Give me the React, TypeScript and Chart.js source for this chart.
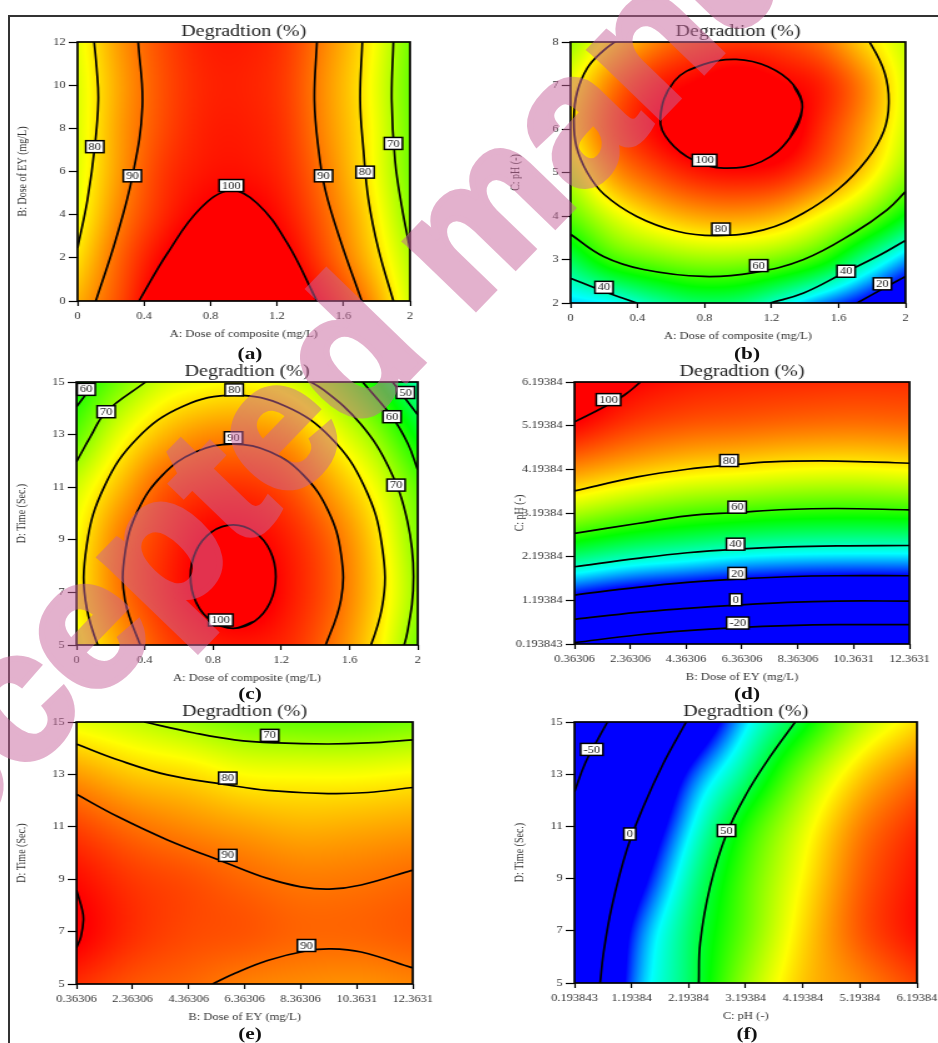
import React, { useEffect, useRef } from "react";
import Chart from "chart.js/auto";

type Pt = [number, number];
type Contour = Pt[];
type Lab = [number, number, string];

const chartTitle = "Degradtion (%)";

// colour key: response value -> rainbow stop
const colorLevels = [20, 35, 55, 77, 100];
const colorStops = [[0, 0, 255], [0, 255, 255], [0, 255, 0], [255, 255, 0], [255, 0, 0]];

// tick labels
const ticksDose = ["0", "0.4", "0.8", "1.2", "1.6", "2"];
const ticksEYShort = ["0", "2", "4", "6", "8", "10", "12"];
const ticksPHShort = ["2", "3", "4", "5", "6", "7", "8"];
const ticksTime = ["5", "7", "9", "11", "13", "15"];
const ticksEY = ["0.36306", "2.36306", "4.36306", "6.36306", "8.36306", "10.3631", "12.3631"];
const ticksPH = ["0.193843", "1.19384", "2.19384", "3.19384", "4.19384", "5.19384", "6.19384"];

// ---------- panel (a)
const heatAx = [0, 0.25, 0.5, 0.75, 1, 1.25, 1.5, 1.75, 2];
const heatAy = [0, 2, 4, 6, 8, 10, 12];
const heatA = [
  [84, 93, 103, 107, 108, 104, 98, 88, 73],
  [79.5, 91, 99.5, 104.5, 105, 101, 93, 83, 70.5],
  [76, 88, 96, 100.5, 101.5, 98, 90.5, 80.5, 67],
  [74.5, 86, 94.5, 98, 98.5, 96, 88.5, 78.5, 65],
  [74, 85.5, 93, 97, 97.5, 95, 87, 78, 64.5],
  [74, 85, 92.5, 96.5, 97, 94.5, 86.5, 77.5, 64],
  [75, 86, 93, 97, 97.5, 95, 87.5, 78.5, 65],
];
const contoursA: Contour[] = [
  [[0, 2.45], [0.06, 4.7], [0.104, 7.15], [0.125, 9.3], [0.115, 10.8], [0.1, 12]],
  [[0.11, 0], [0.23, 2.84], [0.33, 5.77], [0.39, 9], [0.365, 12]],
  [[0.37, 0], [0.54, 2.2], [0.74, 4.3], [0.92, 5.12], [1.08, 4.53], [1.26, 2.7], [1.44, 0]],
  [[1.44, 12], [1.425, 9.3], [1.45, 7], [1.49, 5.15], [1.58, 2.84], [1.71, 0]],
  [[1.713, 12], [1.7, 9.3], [1.72, 7], [1.75, 4.7], [1.81, 2.4], [1.9, 0]],
  [[1.9, 12], [1.89, 9.3], [1.91, 6.5], [1.95, 4.4], [2, 2.4]],
];
const labelsA: Lab[] = [[0.104, 7.15, "80"], [0.33, 5.8, "90"], [0.925, 5.35, "100"], [1.48, 5.8, "90"], [1.73, 5.97, "80"], [1.9, 7.3, "70"]];

// ---------- panel (b)
const heatBx = [0, 0.25, 0.5, 0.75, 1, 1.25, 1.5, 1.75, 2];
const heatBy = [2, 3, 4, 5, 6, 7, 8];
const heatB = [
  [32, 35, 42, 47, 46, 38, 28, 18.5, 7],
  [48.5, 60, 65, 68, 68, 65, 58, 44, 30],
  [63, 74, 81, 85, 86, 83.5, 76.5, 67, 54],
  [72, 86, 93, 97.5, 99, 97.5, 91, 81, 68],
  [79, 92, 99.5, 104, 106, 104, 96, 86, 73],
  [76, 89, 97, 100.5, 103, 100.5, 97, 88, 74],
  [68, 79.5, 88, 93, 95, 94, 90, 81, 72],
];
const contoursB: Contour[] = [
  [[1.31, 5.8], [1.384, 6.5], [1.33, 7.02], [1.18, 7.43], [0.99, 7.6], [0.79, 7.48], [0.62, 7.1], [0.536, 6.25], [0.59, 5.72], [0.74, 5.27], [0.915, 5.1], [1.14, 5.25], [1.31, 5.8], [1.384, 6.5], [1.33, 7.02]],
  [[0.3, 8.1], [0.19, 7.78], [0.1, 7.4], [0.04, 6.85], [0.02, 6.25], [0.035, 5.6], [0.1, 5.0], [0.2, 4.5], [0.396, 3.99], [0.635, 3.65], [0.874, 3.55], [1.153, 3.68], [1.392, 4.07], [1.6, 4.62], [1.77, 5.3], [1.87, 5.95], [1.9, 6.6], [1.875, 7.3], [1.785, 8], [1.72, 8.3]],
  [[0, 3.58], [0.197, 3.07], [0.436, 2.77], [0.795, 2.61], [1.094, 2.7], [1.392, 3.0], [1.69, 3.61], [1.89, 4.14], [2, 4.56]],
  [[0, 2.57], [0.197, 2.27], [0.396, 2]],
  [[1.193, 2], [1.392, 2.23], [1.631, 2.69], [1.85, 3.11], [2, 3.44]],
  [[1.711, 2], [1.87, 2.34], [2, 2.61]],
];
const labelsB: Lab[] = [[0.8, 5.28, "100"], [0.898, 3.7, "80"], [1.124, 2.86, "60"], [0.2, 2.36, "40"], [1.645, 2.73, "40"], [1.862, 2.44, "20"]];

// ---------- panel (c)
const heatCx = [0, 0.25, 0.5, 0.75, 1, 1.25, 1.5, 1.75, 2];
const heatCy = [5, 7, 9, 11, 13, 15];
const heatC = [
  [75, 85, 93, 97, 98, 96, 89.5, 79.5, 65],
  [78, 89, 96, 101, 103, 98, 91.5, 81.5, 68],
  [77, 88.5, 95, 100, 100.5, 97, 90.5, 80.5, 66],
  [73, 83, 91.5, 95, 95.5, 92.5, 85, 76, 63],
  [63, 75, 83, 87, 87.5, 85, 77, 67.5, 53.5],
  [55, 65, 73, 76, 77, 74, 67, 56, 42],
];
const contoursC: Contour[] = [
  [[0.793, 5.9], [0.918, 5.635], [1.043, 5.9], [1.135, 6.62], [1.168, 7.6], [1.135, 8.58], [1.043, 9.3], [0.918, 9.565], [0.793, 9.3], [0.701, 8.58], [0.668, 7.6], [0.701, 6.62], [0.793, 5.9], [0.918, 5.635], [1.043, 5.9]],
  [[0.39, 4.71], [0.284, 6.72], [0.284, 8.48], [0.36, 10.12], [0.504, 11.46], [0.697, 12.34], [0.917, 12.64], [1.137, 12.34], [1.33, 11.46], [1.474, 10.12], [1.55, 8.48], [1.55, 6.72], [1.444, 4.71]],
  [[0.206, 3.64], [0.06, 6.4], [0.06, 8.8], [0.165, 11.05], [0.361, 12.89], [0.625, 14.08], [0.925, 14.5], [1.225, 14.08], [1.489, 12.89], [1.685, 11.05], [1.79, 8.8], [1.79, 6.4], [1.644, 3.64]],
  [[0, 11.97], [0.082, 12.92], [0.174, 13.87], [0.405, 15]],
  [[1.284, 15.3], [1.45, 14.69], [1.667, 13.39], [1.834, 11.7], [1.939, 9.72], [1.975, 7.6], [1.939, 5.48], [1.877, 4.14]],
  [[0, 14.06], [0.11, 15]],
  [[1.677, 15], [1.849, 13.68], [1.941, 12.67], [2, 11.66]],
  [[1.853, 15], [2, 13.75]],
];
const labelsC: Lab[] = [[0.057, 14.72, "60"], [0.174, 13.87, "70"], [0.924, 14.7, "80"], [0.92, 12.88, "90"], [0.845, 5.95, "100"], [1.928, 14.6, "50"], [1.849, 13.68, "60"], [1.873, 11.08, "70"]];

// ---------- panel (d)
const heatDx = [0.36306, 2.36306, 4.36306, 6.36306, 8.36306, 10.3631, 12.3631];
const heatDy = [0.193843, 1.19384, 2.19384, 3.19384, 4.19384, 5.19384, 6.19384];
const heatD = [
  [-21, -27, -32, -35, -36, -37, -37],
  [15.6, 10, 6.5, 3.5, 1.5, 0.5, 1],
  [46, 41, 38, 35, 33.5, 33, 33],
  [70, 65, 61.5, 59.5, 58, 57.5, 58],
  [87, 83, 80, 78.5, 77, 76.5, 77.5],
  [99.5, 94.5, 92, 91, 90, 89.5, 90],
  [106, 100.5, 98, 97, 96.5, 96, 96],
];
const contoursD: Contour[] = [
  [[0.36306, 5.28], [1.42, 5.62], [2.14, 5.89], [2.73, 6.19384]],
  [[0.36306, 3.7], [2.616, 4.02], [4.4, 4.196], [5.89, 4.288], [7.38, 4.364], [9.17, 4.387], [10.96, 4.364], [12.3631, 4.333]],
  [[0.36306, 2.725], [2.616, 2.954], [4.4, 3.13], [6.19, 3.205], [7.98, 3.274], [9.77, 3.297], [12.3631, 3.266]],
  [[0.36306, 1.963], [2.616, 2.154], [4.4, 2.283], [6.19, 2.367], [7.98, 2.42], [9.77, 2.443], [12.3631, 2.45]],
  [[0.36306, 1.315], [2.616, 1.49], [4.4, 1.604], [6.19, 1.68], [7.98, 1.734], [9.77, 1.757], [12.3631, 1.757]],
  [[0.36306, 0.758], [2.616, 0.918], [4.4, 1.01], [6.19, 1.086], [7.98, 1.147], [9.77, 1.177], [12.3631, 1.177]],
  [[0.36306, 0.224], [2.616, 0.4], [4.4, 0.499], [6.19, 0.567], [7.98, 0.613], [9.77, 0.636], [12.3631, 0.636]],
];
const labelsD: Lab[] = [[1.58, 5.79, "100"], [5.9, 4.395, "80"], [6.19, 3.327, "60"], [6.13, 2.48, "40"], [6.19, 1.81, "20"], [6.14, 1.208, "0"], [6.21, 0.674, "-20"]];

// ---------- panel (e)
const heatEx = [0.36306, 2.36306, 4.36306, 6.36306, 8.36306, 10.3631, 12.3631];
const heatEy = [5, 7, 9, 11, 13, 15];
const heatE = [
  [96, 92.5, 90.8, 88.5, 87.5, 87, 88],
  [101, 96, 93.5, 92.5, 91, 91, 92],
  [99, 95, 93, 90.7, 89, 89.3, 90.5],
  [94, 90, 87.5, 85.5, 84, 84.5, 85.5],
  [86, 82, 80, 77, 76.5, 76.5, 77.5],
  [75, 72, 68.5, 65, 63.5, 63.5, 65],
];
const contoursE: Contour[] = [
  [[2.78, 15], [4.57, 14.58], [6.0, 14.32], [7.54, 14.2], [9.33, 14.16], [10.76, 14.2], [12.3631, 14.32]],
  [[0.36306, 14.16], [1.83, 13.56], [3.61, 12.98], [5.76, 12.6], [7.18, 12.39], [9.33, 12.27], [10.76, 12.31], [12.3631, 12.5]],
  [[0.36306, 12.24], [1.83, 11.39], [3.61, 10.5], [5.76, 9.6], [7.18, 9.03], [8.37, 8.71], [9.39, 8.62], [10.52, 8.78], [12.3631, 9.35]],
  [[5.22, 5], [6, 5.4], [7.18, 5.9], [8.55, 6.26], [9.45, 6.34], [10.52, 6.22], [12.3631, 5.61]],
  [[0.36306, 8.58], [0.57, 7.82], [0.61, 7.44], [0.52, 6.8], [0.36306, 6.38]],
];
const labelsE: Lab[] = [[7.26, 14.49, "70"], [5.76, 12.86, "80"], [5.76, 9.91, "90"], [8.57, 6.47, "90"]];

// ---------- panel (f)
const heatFx = [0.193843, 1.19384, 2.19384, 3.19384, 4.19384, 5.19384, 6.19384];
const heatFy = [5, 7, 9, 11, 13, 15];
const heatF = [
  [-30, 25, 47, 68, 82, 88, 94],
  [-28, 21, 46, 64, 80, 92, 99],
  [-32, 10, 41, 62, 77.5, 91, 98.5],
  [-43, -2, 33, 57, 74, 88, 96],
  [-55, -17, 22, 45, 66, 81, 90],
  [-75, -35, 1, 33, 52.5, 70, 80],
];
const contoursF: Contour[] = [
  [[0.193843, 12.33], [0.381, 13.42], [0.614, 14.38], [0.772, 15]],
  [[0.643, 5], [0.702, 6.15], [0.848, 7.93], [1.11, 10.1], [1.402, 11.76], [1.752, 13.42], [2.15, 15]],
  [[2.371, 5], [2.395, 6.53], [2.57, 8.7], [2.862, 10.74], [3.212, 12.27], [3.62, 13.67], [4.06, 15]],
];
const labelsF: Lab[] = [[0.497, 13.95, "-50"], [1.163, 10.71, "0"], [2.856, 10.84, "50"]];

type Spec = {
  box: [number, number, number, number];
  xTitle: string; yTitle: string; xTicks: string[]; yTicks: string[];
  hx: number[]; hy: number[]; hz: number[][]; contours: Contour[]; labels: Lab[];
};

const doseTitle = "A: Dose of composite (mg/L)";
const eyTitle = "B: Dose of EY (mg/L)";
const phTitle = "C: pH (-)";
const timeTitle = "D: Time (Sec.)";

const panels: Spec[] = [
  { box: [77, 42, 409, 301], xTitle: doseTitle, yTitle: eyTitle, xTicks: ticksDose, yTicks: ticksEYShort, hx: heatAx, hy: heatAy, hz: heatA, contours: contoursA, labels: labelsA },
  { box: [570, 42, 905, 303], xTitle: doseTitle, yTitle: phTitle, xTicks: ticksDose, yTicks: ticksPHShort, hx: heatBx, hy: heatBy, hz: heatB, contours: contoursB, labels: labelsB },
  { box: [76, 382, 417, 645], xTitle: doseTitle, yTitle: timeTitle, xTicks: ticksDose, yTicks: ticksTime, hx: heatCx, hy: heatCy, hz: heatC, contours: contoursC, labels: labelsC },
  { box: [574, 382, 909, 644], xTitle: eyTitle, yTitle: phTitle, xTicks: ticksEY, yTicks: ticksPH, hx: heatDx, hy: heatDy, hz: heatD, contours: contoursD, labels: labelsD },
  { box: [76, 722, 412, 984], xTitle: eyTitle, yTitle: timeTitle, xTicks: ticksEY, yTicks: ticksTime, hx: heatEx, hy: heatEy, hz: heatE, contours: contoursE, labels: labelsE },
  { box: [574, 722, 917, 983], xTitle: phTitle, yTitle: timeTitle, xTicks: ticksPH, yTicks: ticksTime, hx: heatFx, hy: heatFy, hz: heatF, contours: contoursF, labels: labelsF },
];

const captions: [string, number, number][] = [
  ["(a)", 250, 353], ["(b)", 747, 353], ["(c)", 250, 693], ["(d)", 747, 693], ["(e)", 250, 1033], ["(f)", 747, 1033],
];

const SERIF = '"Liberation Serif", "Times New Roman", serif';
const STRETCH = 1.25; // the page image is widened horizontally
const AXIS_W = 50, TOP_H = 27, XAXIS_H = 38.5, RIGHT_PAD = 34;

function colorOf(v: number): number[] {
  if (v <= colorLevels[0]) return colorStops[0];
  for (let i = 1; i < colorLevels.length; i++) {
    if (v <= colorLevels[i]) {
      const t = (v - colorLevels[i - 1]) / (colorLevels[i] - colorLevels[i - 1]);
      const a = colorStops[i - 1], b = colorStops[i];
      return [a[0] + (b[0] - a[0]) * t, a[1] + (b[1] - a[1]) * t, a[2] + (b[2] - a[2]) * t];
    }
  }
  return colorStops[colorStops.length - 1];
}

// smooth rendering of the read grid (Catmull-Rom between nodes)
function cr(p0: number, p1: number, p2: number, p3: number, t: number) {
  return 0.5 * (2 * p1 + (p2 - p0) * t + (2 * p0 - 5 * p1 + 4 * p2 - p3) * t * t + (3 * p1 - p0 - 3 * p2 + p3) * t * t * t);
}
function sampleGrid(xs: number[], ys: number[], z: number[][], x: number, y: number) {
  let i = 0, j = 0;
  while (i < xs.length - 2 && x > xs[i + 1]) i++;
  while (j < ys.length - 2 && y > ys[j + 1]) j++;
  const tx = Math.min(1, Math.max(0, (x - xs[i]) / (xs[i + 1] - xs[i])));
  const ty = Math.min(1, Math.max(0, (y - ys[j]) / (ys[j + 1] - ys[j])));
  const row = (r: number[]) => {
    const p1 = r[i], p2 = r[i + 1];
    const p0 = i > 0 ? r[i - 1] : 2 * p1 - p2;
    const p3 = i + 2 < r.length ? r[i + 2] : 2 * p2 - p1;
    return cr(p0, p1, p2, p3, tx);
  };
  const v1 = row(z[j]), v2 = row(z[j + 1]);
  const v0 = j > 0 ? row(z[j - 1]) : 2 * v1 - v2;
  const v3 = j + 2 < z.length ? row(z[j + 2]) : 2 * v2 - v1;
  return cr(v0, v1, v2, v3, ty);
}

function Panel({ spec }: { spec: Spec }) {
  const ref = useRef<HTMLCanvasElement>(null);
  const [L, T, R, B] = spec.box;
  const innerW = (R - L) / STRETCH;
  const w = Math.round(AXIS_W + innerW + RIGHT_PAD);
  const h = Math.round(TOP_H + (B - T) + XAXIS_H);
  useEffect(() => {
    const heat = {
      id: "heat",
      beforeDatasetsDraw(chart: any) {
        const { left, top, right, bottom } = chart.chartArea;
        const cw = Math.ceil(right - left), ch = Math.ceil(bottom - top);
        const off = document.createElement("canvas");
        off.width = cw; off.height = ch;
        const octx = off.getContext("2d")!;
        const img = octx.createImageData(cw, ch);
        const sx = chart.scales.x, sy = chart.scales.y;
        for (let py = 0; py < ch; py++) {
          const vy = sy.getValueForPixel(top + py + 0.5);
          for (let px = 0; px < cw; px++) {
            const vx = sx.getValueForPixel(left + px + 0.5);
            const c = colorOf(sampleGrid(spec.hx, spec.hy, spec.hz, vx, vy));
            const o = (py * cw + px) * 4;
            img.data[o] = c[0]; img.data[o + 1] = c[1]; img.data[o + 2] = c[2]; img.data[o + 3] = 255;
          }
        }
        octx.putImageData(img, 0, 0);
        chart.ctx.drawImage(off, left, top, right - left, bottom - top);
      },
    };
    const overlay = {
      id: "overlay",
      afterDatasetsDraw(chart: any) {
        const { ctx, chartArea: a } = chart;
        ctx.save();
        ctx.strokeStyle = "#000";
        ctx.lineWidth = 1.7;
        ctx.strokeRect(a.left, a.top, a.right - a.left, a.bottom - a.top);
        ctx.font = `10px ${SERIF}`;
        ctx.textAlign = "center";
        ctx.textBaseline = "middle";
        for (const [x, y, text] of spec.labels) {
          const px = chart.scales.x.getPixelForValue(x);
          const py = chart.scales.y.getPixelForValue(y);
          const bw = ctx.measureText(text).width + 4.5;
          const bh = 12;
          ctx.fillStyle = "#fff";
          ctx.fillRect(px - bw / 2, py - bh / 2, bw, bh);
          ctx.lineWidth = 1.5;
          ctx.strokeRect(px - bw / 2, py - bh / 2, bw, bh);
          ctx.fillStyle = "#222";
          ctx.fillText(text, px, py + 0.5);
        }
        ctx.restore();
      },
    };
    const numeric = (a: string[]) => a.map(Number);
    const xVals = numeric(spec.xTicks), yVals = numeric(spec.yTicks);
    const chart = new Chart(ref.current!, {
      type: "scatter",
      data: {
        datasets: spec.contours.map((c) => ({
          data: c.map(([x, y]) => ({ x, y })),
          showLine: true,
          tension: 0.4,
          borderColor: "#000",
          borderWidth: 1.7,
          pointRadius: 0,
          fill: false,
        })),
      },
      options: {
        responsive: false,
        animation: false,
        events: [],
        layout: { padding: { left: 0, top: 0, bottom: 0, right: RIGHT_PAD } },
        plugins: {
          legend: { display: false },
          tooltip: { enabled: false },
          title: {
            display: true, text: chartTitle, fullSize: false, color: "#222",
            font: { family: SERIF, size: 16, weight: "normal", lineHeight: 1.2 },
            padding: { top: 7.1, bottom: 0.7 },
          },
        },
        scales: {
          x: {
            type: "linear", min: xVals[0], max: xVals[xVals.length - 1],
            afterBuildTicks: (s: any) => { s.ticks = xVals.map((value) => ({ value })); },
            afterFit: (s: any) => { s.height = h - TOP_H - (B - T); },
            grid: { drawOnChartArea: false, drawTicks: true, tickLength: 5, tickColor: "#000", tickWidth: 1.2 },
            border: { display: false },
            ticks: {
              autoSkip: false, maxRotation: 0, minRotation: 0, padding: 4, color: "#333",
              font: { family: SERIF, size: 10 }, callback: (v: any) => String(v),
            },
            title: { display: true, text: spec.xTitle, color: "#333", padding: 0, font: { family: SERIF, size: 10, lineHeight: 1.2 } },
          },
          y: {
            type: "linear", min: yVals[0], max: yVals[yVals.length - 1],
            afterBuildTicks: (s: any) => { s.ticks = yVals.map((value) => ({ value })); },
            afterFit: (s: any) => { s.width = AXIS_W; },
            grid: { drawOnChartArea: false, drawTicks: true, tickLength: 7, tickColor: "#000", tickWidth: 1.2 },
            border: { display: false },
            ticks: {
              autoSkip: false, padding: 2.5, color: "#333",
              font: { family: SERIF, size: 10 }, callback: (v: any) => String(v),
            },
            title: { display: true, text: spec.yTitle, color: "#333", padding: 0, font: { family: SERIF, size: 10, lineHeight: 1.2 } },
          },
        },
      } as any,
      plugins: [heat, overlay],
    });
    return () => chart.destroy();
  }, []);
  return (
    <canvas
      ref={ref}
      width={w}
      height={h}
      style={{
        position: "absolute",
        left: L - AXIS_W * STRETCH,
        top: T - TOP_H,
        width: w,
        height: h,
        transformOrigin: "0 0",
        transform: `scaleX(${STRETCH})`,
        filter: "blur(0.35px)",
      }}
    />
  );
}

export default function App() {
  return (
    <div style={{ position: "absolute", left: 0, top: 0, width: 938, height: 1043, overflow: "hidden", background: "#fff" }}>
      <div style={{ position: "absolute", left: 8, top: 15, width: 930, height: 2.3, background: "#333" }} />
      <div style={{ position: "absolute", left: 8, top: 15, width: 2.4, height: 1028, background: "#333" }} />
      {panels.map((p, i) => <Panel key={i} spec={p} />)}
      {captions.map(([t, x, y]) => (
        <div
          key={t}
          style={{
            position: "absolute", left: x, top: y, fontFamily: SERIF, fontWeight: "bold", fontSize: 17, lineHeight: 1, color: "#111",
            transform: `translate(-50%, -50%) scaleX(${STRETCH})`, whiteSpace: "nowrap",
          }}
        >{t}</div>
      ))}
      <svg width={938} height={1043} style={{ position: "absolute", left: 0, top: 0, pointerEvents: "none" }}>
        <g opacity={0.5}>
          <text
            x={-144}
            y={950}
            transform="rotate(-46 -144 950)"
            fontFamily='"Liberation Sans", Arial, sans-serif'
            fontWeight="bold"
            fontSize={184}
            fill="rgb(200,100,155)"
            stroke="rgb(200,100,155)"
            strokeWidth={6}
            strokeLinejoin="miter"
          >Accepted manuscript</text>
        </g>
      </svg>
    </div>
  );
}
